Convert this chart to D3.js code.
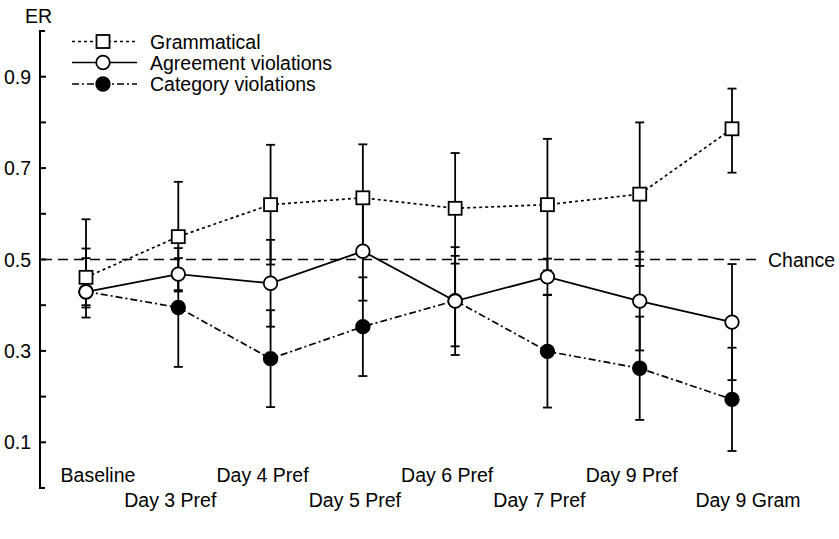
<!DOCTYPE html>
<html>
<head>
<meta charset="utf-8">
<script src="https://cdn.jsdelivr.net/npm/d3@7/dist/d3.min.js"></script>
<style>
  body { margin: 0; background: #fff; }
  text { font-family: "Liberation Sans", Arial, sans-serif; fill: #000; }
</style>
</head>
<body>
<script>
// data
const categories = ["Baseline", "Day 3 Pref", "Day 4 Pref", "Day 5 Pref",
  "Day 6 Pref", "Day 7 Pref", "Day 9 Pref", "Day 9 Gram"];

const gramMean = [0.461, 0.550, 0.620, 0.635, 0.612, 0.620, 0.643, 0.786];
const gramLo   = [0.395, 0.430, 0.489, 0.518, 0.491, 0.476, 0.486, 0.690];
const gramHi   = [0.588, 0.670, 0.751, 0.752, 0.733, 0.764, 0.800, 0.874];

const agreeMean = [0.429, 0.468, 0.448, 0.518, 0.409, 0.462, 0.409, 0.363];
const agreeLo   = [0.373, 0.433, 0.353, 0.410, 0.291, 0.423, 0.301, 0.236];
const agreeHi   = [0.524, 0.503, 0.543, 0.626, 0.527, 0.502, 0.517, 0.490];

const catMean = [0.430, 0.395, 0.283, 0.353, 0.410, 0.299, 0.262, 0.194];
const catLo   = [0.400, 0.265, 0.177, 0.245, 0.310, 0.176, 0.149, 0.081];
const catHi   = [0.503, 0.525, 0.389, 0.461, 0.508, 0.422, 0.375, 0.307];

const yTicks = [0.1, 0.2, 0.3, 0.4, 0.5, 0.6, 0.7, 0.8, 0.9];
const yTickLabels = [0.1, 0.3, 0.5, 0.7, 0.9];
const chance = 0.5;

let width = 839, height = 539;
let svg = d3.select("body").append("svg")
  .attr("width", width)
  .attr("height", height);

let x = d3.scalePoint().domain(categories).range([86, 732]);
let y = d3.scaleLinear().domain([0, 1]).range([488, 31]);

const axisX = 40;
const fs = 19.5;

// y axis (bracket style)
svg.append("line")
  .attr("x1", axisX).attr("x2", axisX)
  .attr("y1", y(1)).attr("y2", y(0))
  .attr("stroke", "black").attr("stroke-width", 2);
svg.selectAll(".cap")
  .data([0, 1])
  .enter().append("line")
  .attr("x1", axisX - 1).attr("x2", axisX + 5)
  .attr("y1", d => y(d)).attr("y2", d => y(d))
  .attr("stroke", "black").attr("stroke-width", 2);
svg.selectAll(".ytick")
  .data(yTicks)
  .enter().append("line")
  .attr("x1", axisX).attr("x2", axisX + 6)
  .attr("y1", d => y(d)).attr("y2", d => y(d))
  .attr("stroke", "black").attr("stroke-width", 2);
svg.selectAll(".ylabel")
  .data(yTickLabels)
  .enter().append("text")
  .attr("x", axisX - 9)
  .attr("y", d => y(d) + 7)
  .attr("text-anchor", "end")
  .attr("font-size", fs)
  .text(d => d.toFixed(1));
svg.append("text")
  .attr("x", 25).attr("y", 23)
  .attr("font-size", fs)
  .text("ER");

// x labels, two staggered rows
const labelNudge = { "Baseline": 12, "Day 9 Gram": 16 };
svg.selectAll(".xlabel")
  .data(categories)
  .enter().append("text")
  .attr("x", d => x(d) + (labelNudge[d] !== undefined ? labelNudge[d] : -8))
  .attr("y", (d, i) => i % 2 === 0 ? 482 : 507)
  .attr("text-anchor", "middle")
  .attr("font-size", fs)
  .text(d => d);

// chance line
svg.append("line")
  .attr("x1", axisX + 2).attr("x2", 757)
  .attr("y1", y(chance)).attr("y2", y(chance))
  .attr("stroke", "black").attr("stroke-width", 1.6)
  .attr("stroke-dasharray", "10,6");
svg.append("text")
  .attr("x", 768).attr("y", y(chance) + 7)
  .attr("font-size", fs)
  .text("Chance");

const series = [
  { name: "Grammatical", mean: gramMean, lo: gramLo, hi: gramHi, dash: "3,3", marker: "square" },
  { name: "Agreement violations", mean: agreeMean, lo: agreeLo, hi: agreeHi, dash: null, marker: "open" },
  { name: "Category violations", mean: catMean, lo: catLo, hi: catHi, dash: "7,3,2,3", marker: "filled" }
];

// error bars
series.forEach(s => {
  let g = svg.append("g");
  categories.forEach((c, i) => {
    g.append("line")
      .attr("x1", x(c)).attr("x2", x(c))
      .attr("y1", y(s.lo[i])).attr("y2", y(s.hi[i]))
      .attr("stroke", "black").attr("stroke-width", 1.8);
    [s.lo[i], s.hi[i]].forEach(v => {
      g.append("line")
        .attr("x1", x(c) - 4.5).attr("x2", x(c) + 4.5)
        .attr("y1", y(v)).attr("y2", y(v))
        .attr("stroke", "black").attr("stroke-width", 1.8);
    });
  });
});

// series lines
let line = d3.line().x((d, i) => x(categories[i])).y(d => y(d));
series.forEach(s => {
  svg.append("path")
    .attr("d", line(s.mean))
    .attr("fill", "none")
    .attr("stroke", "black")
    .attr("stroke-width", s.dash ? 1.7 : 1.8)
    .attr("stroke-dasharray", s.dash);
});

function drawMarker(g, kind, cx, cy) {
  if (kind === "square") {
    g.append("rect")
      .attr("x", cx - 6.5).attr("y", cy - 6.5)
      .attr("width", 13).attr("height", 13)
      .attr("fill", "white").attr("stroke", "black").attr("stroke-width", 1.8);
  } else {
    g.append("circle")
      .attr("cx", cx).attr("cy", cy).attr("r", 6.8)
      .attr("fill", kind === "filled" ? "black" : "white")
      .attr("stroke", "black").attr("stroke-width", 1.8);
  }
}

// markers
series.slice().reverse().forEach(s => {
  let g = svg.append("g");
  s.mean.forEach((v, i) => drawMarker(g, s.marker, x(categories[i]), y(v)));
});

// legend
const legendY = [41.5, 62.5, 84];
series.forEach((s, i) => {
  let g = svg.append("g");
  g.append("line")
    .attr("x1", 72).attr("x2", 137)
    .attr("y1", legendY[i]).attr("y2", legendY[i])
    .attr("stroke", "black").attr("stroke-width", 1.7)
    .attr("stroke-dasharray", s.dash);
  drawMarker(g, s.marker, 103, legendY[i]);
  g.append("text")
    .attr("x", 150).attr("y", legendY[i] + 7)
    .attr("font-size", fs)
    .text(s.name);
});
</script>
</body>
</html>
